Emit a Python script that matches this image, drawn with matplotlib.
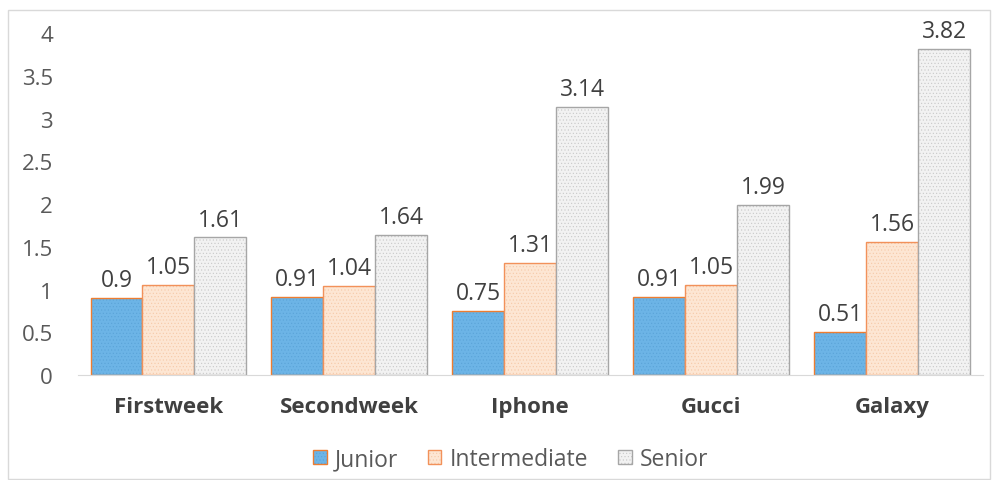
import matplotlib.pyplot as plt
import numpy as np
from matplotlib.patches import Rectangle

plt.rcParams['font.family'] = ['Open Sans', 'DejaVu Sans']
plt.rcParams['hatch.linewidth'] = 0.4

categories = ['Firstweek', 'Secondweek', 'Iphone', 'Gucci', 'Galaxy']
junior = [0.9, 0.91, 0.75, 0.91, 0.51]
intermediate = [1.05, 1.04, 1.31, 1.05, 1.56]
senior = [1.61, 1.64, 3.14, 1.99, 3.82]
yticks = [0, 0.5, 1, 1.5, 2, 2.5, 3, 3.5, 4]

fig = plt.figure(figsize=(9.92, 4.81), dpi=100)
fig.patches.append(Rectangle((0.008, 0.003), 0.990, 0.975, transform=fig.transFigure,
                             fill=False, edgecolor='#D9D9D9', linewidth=1.0))
ax = fig.add_axes([0.0786, 0.218, 0.912, 0.711])

x = np.arange(len(categories))
w = 0.287
series = [
    (junior, 'Junior', '#6CB4E6', '#ED7D31', '#5AA3D8'),
    (intermediate, 'Intermediate', '#FDE6D3', '#F2915A', '#F6C9A8'),
    (senior, 'Senior', '#F2F2F2', '#A6A6A6', '#C8C8C8'),
]
for i, (vals, lab, fc, ec, hc) in enumerate(series):
    pos = x + (i - 1) * w
    bars = ax.bar(pos, vals, w, color=fc, edgecolor=ec, linewidth=1.0, label=lab)
    for b in bars:
        b.set_hatch('.....')
        b._hatch_color = plt.matplotlib.colors.to_rgba(hc)
    for p, v in zip(pos, vals):
        ax.text(p, v + 0.07, f'{v:g}', ha='center', va='bottom', fontsize=16.5,
                color='#404040', clip_on=False)

ax.set_xlim(-0.5, 4.5)
ax.set_ylim(0, 4)
ax.set_yticks(yticks)
ax.set_yticklabels([f'{t:g}' for t in yticks], fontsize=16, color='#595959')
ax.set_xticks(x)
ax.set_xticklabels(categories, fontsize=16, fontweight='bold', color='#404040')
ax.tick_params(axis='both', length=0)
ax.tick_params(axis='x', pad=15)
ax.tick_params(axis='y', pad=18)
for s in ['top', 'right', 'left']:
    ax.spines[s].set_visible(False)
ax.spines['bottom'].set_color('#D9D9D9')

ax.legend(loc='upper center', bbox_to_anchor=(0.478, -0.15), ncol=3, frameon=False,
          fontsize=16.5, handlelength=0.6, handleheight=0.6, handletextpad=0.35,
          columnspacing=1.3, labelcolor='#595959')

fig.savefig('out.png', dpi=100)
